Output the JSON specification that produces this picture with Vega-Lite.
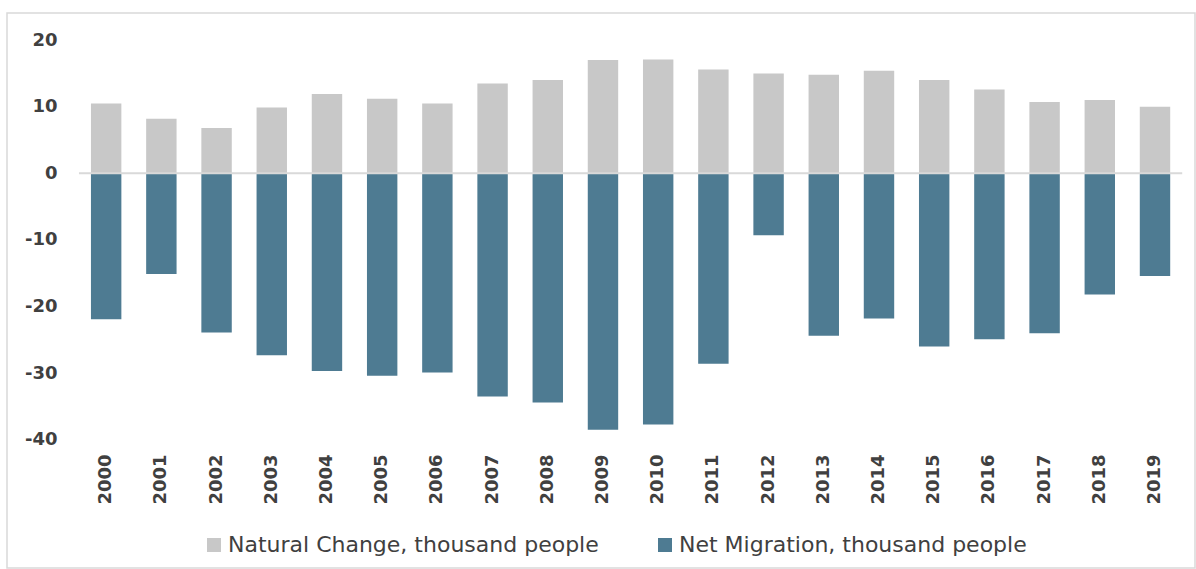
{
  "$schema": "https://vega.github.io/schema/vega-lite/v6.json",
  "width": 1188,
  "height": 555,
  "autosize": {"type": "none"},
  "padding": {"left": 7, "top": 13, "right": 1, "bottom": 1},
  "background": "white",
  "config": {
    "view": {"stroke": "#d9d9d9", "strokeWidth": 1.5},
    "font": "DejaVu Sans"
  },
  "layer": [
    {
      "data": {
        "values": [
          {"year": "2000", "series": "Natural Change, thousand people", "value": 10.5},
          {"year": "2001", "series": "Natural Change, thousand people", "value": 8.2},
          {"year": "2002", "series": "Natural Change, thousand people", "value": 6.8},
          {"year": "2003", "series": "Natural Change, thousand people", "value": 9.9},
          {"year": "2004", "series": "Natural Change, thousand people", "value": 11.9},
          {"year": "2005", "series": "Natural Change, thousand people", "value": 11.2},
          {"year": "2006", "series": "Natural Change, thousand people", "value": 10.5},
          {"year": "2007", "series": "Natural Change, thousand people", "value": 13.5},
          {"year": "2008", "series": "Natural Change, thousand people", "value": 14.0},
          {"year": "2009", "series": "Natural Change, thousand people", "value": 17.0},
          {"year": "2010", "series": "Natural Change, thousand people", "value": 17.1},
          {"year": "2011", "series": "Natural Change, thousand people", "value": 15.6},
          {"year": "2012", "series": "Natural Change, thousand people", "value": 15.0},
          {"year": "2013", "series": "Natural Change, thousand people", "value": 14.8},
          {"year": "2014", "series": "Natural Change, thousand people", "value": 15.4},
          {"year": "2015", "series": "Natural Change, thousand people", "value": 14.0},
          {"year": "2016", "series": "Natural Change, thousand people", "value": 12.6},
          {"year": "2017", "series": "Natural Change, thousand people", "value": 10.7},
          {"year": "2018", "series": "Natural Change, thousand people", "value": 11.0},
          {"year": "2019", "series": "Natural Change, thousand people", "value": 10.0},
          {"year": "2000", "series": "Net Migration, thousand people", "value": -21.9},
          {"year": "2001", "series": "Net Migration, thousand people", "value": -15.1},
          {"year": "2002", "series": "Net Migration, thousand people", "value": -23.9},
          {"year": "2003", "series": "Net Migration, thousand people", "value": -27.3},
          {"year": "2004", "series": "Net Migration, thousand people", "value": -29.7},
          {"year": "2005", "series": "Net Migration, thousand people", "value": -30.4},
          {"year": "2006", "series": "Net Migration, thousand people", "value": -29.9},
          {"year": "2007", "series": "Net Migration, thousand people", "value": -33.5},
          {"year": "2008", "series": "Net Migration, thousand people", "value": -34.4},
          {"year": "2009", "series": "Net Migration, thousand people", "value": -38.5},
          {"year": "2010", "series": "Net Migration, thousand people", "value": -37.7},
          {"year": "2011", "series": "Net Migration, thousand people", "value": -28.6},
          {"year": "2012", "series": "Net Migration, thousand people", "value": -9.3},
          {"year": "2013", "series": "Net Migration, thousand people", "value": -24.4},
          {"year": "2014", "series": "Net Migration, thousand people", "value": -21.8},
          {"year": "2015", "series": "Net Migration, thousand people", "value": -26.0},
          {"year": "2016", "series": "Net Migration, thousand people", "value": -24.9},
          {"year": "2017", "series": "Net Migration, thousand people", "value": -24.0},
          {"year": "2018", "series": "Net Migration, thousand people", "value": -18.2},
          {"year": "2019", "series": "Net Migration, thousand people", "value": -15.4}
        ]
      },
      "mark": {"type": "bar"},
      "encoding": {
        "x": {
          "field": "year",
          "type": "ordinal",
          "scale": {"paddingInner": 0.449, "paddingOuter": 0.985, "align": 0.772},
          "axis": {
            "orient": "bottom",
            "offset": -116,
            "title": null,
            "labelAngle": -90,
            "labelFontSize": 18,
            "labelFontWeight": "bold",
            "labelColor": "#404040",
            "labelPadding": 2,
            "domain": false,
            "ticks": false,
            "grid": false
          }
        },
        "y": {
          "field": "value",
          "type": "quantitative",
          "scale": {"domain": [-59.26, 24.07], "nice": false, "zero": false},
          "axis": {
            "orient": "left",
            "offset": -52,
            "title": null,
            "values": [-40, -30, -20, -10, 0, 10, 20],
            "labelExpr": "(datum.value < 0 ? '-' : '') + abs(datum.value)",
            "labelFontSize": 18,
            "labelFontWeight": "bold",
            "labelColor": "#404040",
            "labelPadding": 2,
            "domain": false,
            "ticks": false,
            "grid": false
          }
        },
        "color": {
          "field": "series",
          "type": "nominal",
          "scale": {
            "domain": ["Natural Change, thousand people", "Net Migration, thousand people"],
            "range": ["#c8c8c8", "#4e7b92"]
          },
          "legend": {
            "orient": "none",
            "legendX": 196,
            "legendY": 521,
            "direction": "horizontal",
            "title": null,
            "symbolType": "square",
            "symbolSize": 196,
            "symbolStrokeWidth": 0,
            "symbolOpacity": 1,
            "labelFontSize": 22,
            "labelColor": "#404040",
            "labelOffset": 3,
            "columnPadding": 55,
            "labelLimit": 500
          }
        }
      }
    },
    {
      "data": {"values": [{"v": 0}]},
      "mark": {"type": "rule", "color": "#d9d9d9", "strokeWidth": 2, "xOffset": -12, "x2Offset": 12},
      "encoding": {
        "x": {"datum": "2000", "type": "ordinal", "bandPosition": 0},
        "x2": {"datum": "2019", "bandPosition": 1},
        "y": {"field": "v", "type": "quantitative"}
      }
    }
  ]
}
